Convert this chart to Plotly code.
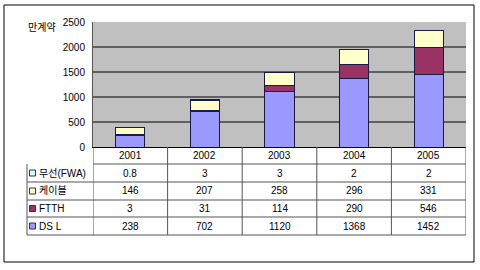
import plotly.graph_objects as go

years = ["2001", "2002", "2003", "2004", "2005"]
series_names = ["DS L", "FTTH", "케이블", "무선(FWA)"]
dsl = [238, 702, 1120, 1368, 1452]
ftth = [3, 31, 114, 290, 546]
cable = [146, 207, 258, 296, 331]
wireless = [0.8, 3, 3, 2, 2]
wireless_labels = ["0.8", "3", "3", "2", "2"]
colors = ["#9999FF", "#993366", "#FFFFCC", "#CCFFFF"]
y_ticks = [0, 500, 1000, 1500, 2000, 2500]

W, H = 480, 270
L, R, T, B = 93, 466, 22, 147
FONT = "Liberation Sans, Noto Sans CJK KR"

def py(y):
    return (B - y) / (B - T)

def px(x):
    return (x - L) / (R - L)

fig = go.Figure()
vals = [dsl, ftth, cable, wireless]
for name, v, c in zip(series_names, vals, colors):
    fig.add_trace(go.Bar(x=list(range(len(years))), y=v, name=name,
                         marker=dict(color=c, line=dict(color="#1a1a40", width=1)),
                         width=0.39, showlegend=False))

shapes = []
annotations = []
# gridlines (black, below bars), excluding the top edge
for tv in y_ticks[1:-1]:
    shapes.append(dict(type="line", xref="paper", yref="y", x0=0, x1=1, y0=tv, y1=tv,
                       line=dict(color="#000000", width=1), layer="below"))
shapes.append(dict(type="rect", xref="paper", yref="paper", x0=px(4), x1=px(474), y0=py(262), y1=py(5),
                   line=dict(color="#000000", width=1)))
row_edges = [147, 164, 182, 200, 217, 235]
line_c = "#555555"
shapes.append(dict(type="line", xref="paper", yref="paper", x0=0, x1=1, y0=py(164), y1=py(164), line=dict(color=line_c, width=1)))
for ye in row_edges[2:]:
    shapes.append(dict(type="line", xref="paper", yref="paper", x0=px(27), x1=1, y0=py(ye), y1=py(ye), line=dict(color=line_c, width=1)))
shapes.append(dict(type="line", xref="paper", yref="paper", x0=px(27), x1=px(27), y0=py(164), y1=py(235), line=dict(color=line_c, width=1)))
for i in range(len(years) + 1):
    shapes.append(dict(type="line", xref="x", yref="paper", x0=i - 0.5, x1=i - 0.5, y0=py(147), y1=py(235), line=dict(color=line_c, width=1)))

def ann(x, y, text, xref="paper", xanchor="center"):
    annotations.append(dict(x=x, y=y, xref=xref, yref="paper", text=text, showarrow=False,
                            xanchor=xanchor, yanchor="middle",
                            font=dict(size=10, color="#000", family=FONT)))

for i, yr in enumerate(years):
    ann(i, py(155.5), yr, xref="x")
rows = [("무선(FWA)", wireless_labels, colors[3]),
        ("케이블", [str(v) for v in cable], colors[2]),
        ("FTTH", [str(v) for v in ftth], colors[1]),
        ("DS L", [str(v) for v in dsl], colors[0])]
for r, (label, texts, c) in enumerate(rows):
    yc = (row_edges[r + 1] + row_edges[r + 2]) / 2
    shapes.append(dict(type="rect", xref="paper", yref="paper", x0=px(29.5), x1=px(35.5),
                       y0=py(yc + 3), y1=py(yc - 3), fillcolor=c, line=dict(color="#333", width=1)))
    ann(px(37), py(yc), label, xanchor="left")
    for i, t in enumerate(texts):
        ann(i, py(yc), t, xref="x")
ann(px(58), py(27), "만계약", xanchor="right")

fig.update_layout(
    width=W, height=H, barmode="stack",
    margin=dict(l=L, r=W - R, t=T, b=H - B, pad=0),
    paper_bgcolor="#ffffff", plot_bgcolor="#C0C0C0",
    shapes=shapes, annotations=annotations,
    xaxis=dict(range=[-0.5, 4.5], showticklabels=False, showgrid=False, zeroline=False,
               showline=True, linecolor="#000", linewidth=1, fixedrange=True),
    yaxis=dict(range=[0, 2500], tickvals=y_ticks, showgrid=False,
               zeroline=False, showline=True, linecolor="#555", linewidth=1,
               tickfont=dict(size=10, color="#000", family=FONT), ticklabelstandoff=5),
    font=dict(family=FONT),
)
fig.write_html("out.html")
